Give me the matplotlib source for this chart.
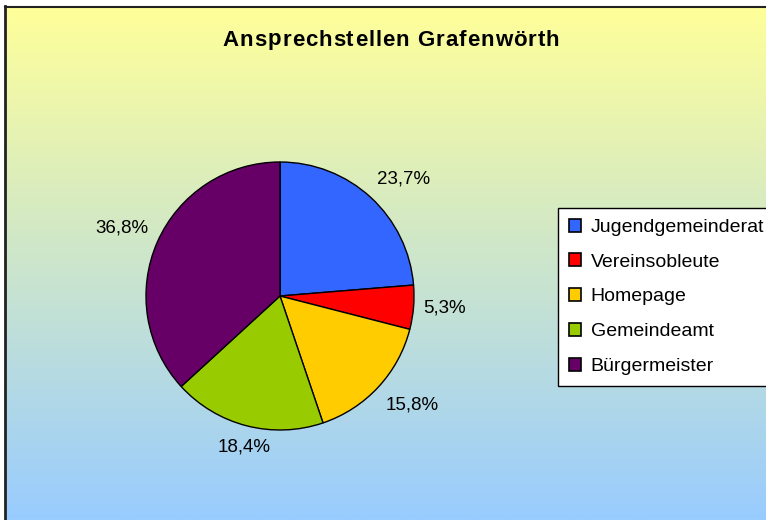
import matplotlib.pyplot as plt
import numpy as np
from matplotlib.patches import Patch
from matplotlib.lines import Line2D

plt.rcParams['font.family'] = ['Liberation Sans', 'DejaVu Sans']

# Daten
kategorien = ['Jugendgemeinderat', 'Vereinsobleute', 'Homepage', 'Gemeindeamt', 'Bürgermeister']
anteile = [23.7, 5.3, 15.8, 18.4, 36.8]
farben = ['#3366FF', '#FF0000', '#FFCC00', '#99CC00', '#660066']
titel = 'Ansprechstellen Grafenwörth'

W, H = 766, 520
fig = plt.figure(figsize=(W / 100, H / 100), dpi=100)

# Hintergrund mit Verlauf (gelb -> hellblau)
bg = fig.add_axes([6/W, 0, 1 - 6/W, 1 - 7/H])
oben = np.array([255, 255, 153]) / 255
unten = np.array([153, 204, 255]) / 255
s = np.linspace(0, 1, 256)[:, None]
verlauf = oben * (1 - s) + unten * s
bg.imshow(verlauf[:, None, :], aspect='auto', extent=[0, 1, 0, 1])
bg.set_axis_off()
# Rahmen links und oben
fig.add_artist(Line2D([5/W, 5/W], [0, 1 - 6/H], color='#222222', lw=2))
fig.add_artist(Line2D([5/W, 1], [1 - 6.5/H, 1 - 6.5/H], color='#222222', lw=1.5))

# Titel mit leichter Sperrung (Zeichen einzeln setzen)
renderer = fig.canvas.get_renderer()
tgr = 16
ref = fig.text(0, 0, 'nn', fontsize=tgr, fontweight='bold')
ref_b = ref.get_window_extent(renderer).width
ref.remove()
breiten = []
for c in titel:
    # Breite ueber Differenz bestimmen (ohne Randzuschlag)
    t = fig.text(0, 0, 'n' + c + 'n', fontsize=tgr, fontweight='bold')
    breiten.append(t.get_window_extent(renderer).width - ref_b)
    t.remove()
sperr = 1.0  # px
gesamt = sum(breiten) + sperr * (len(titel) - 1)
x = 391 - gesamt / 2
for c, b in zip(titel, breiten):
    if c != ' ':
        fig.text(x / W, 1 - 40 / H, c, ha='left', va='center', fontsize=tgr, fontweight='bold')
    x += b + sperr

# Kreisdiagramm
ax = fig.add_axes([146/W, 90/H, 268/W, 268/H])
keile, texte = ax.pie(anteile, colors=farben, startangle=90, counterclock=False,
                      wedgeprops=dict(edgecolor='black', linewidth=1), radius=1)
ax.set_xlim(-1, 1)
ax.set_ylim(-1, 1)
ax.set_aspect('equal')

# Prozentangaben ausserhalb, Ausrichtung nach Richtung
for w, p in zip(keile, anteile):
    mitte = np.deg2rad((w.theta1 + w.theta2) / 2)
    cx, cy = np.cos(mitte), np.sin(mitte)
    ha = 'left' if cx > 0.3 else ('right' if cx < -0.3 else 'center')
    va = 'bottom' if cy > 0.3 else ('top' if cy < -0.3 else 'center')
    ax.text(1.07 * cx, 1.1 * cy, ('%.1f%%' % p).replace('.', ','), ha=ha, va=va,
            fontsize=13.5)

griffe = [Patch(facecolor=f, edgecolor='black', linewidth=1.2) for f in farben]
leg = fig.legend(griffe, kategorien, loc='upper left', bbox_to_anchor=(558/W, 1 - 208/H),
                 fontsize=14, frameon=True, fancybox=False, edgecolor='black',
                 handlelength=0.64, handleheight=0.64, handletextpad=0.5,
                 labelspacing=0.9, borderpad=0.55, borderaxespad=0)
leg.get_frame().set_linewidth(1)
leg.get_frame().set_facecolor('white')
leg.get_frame().set_alpha(1)

fig.savefig('out.png', dpi=100)
